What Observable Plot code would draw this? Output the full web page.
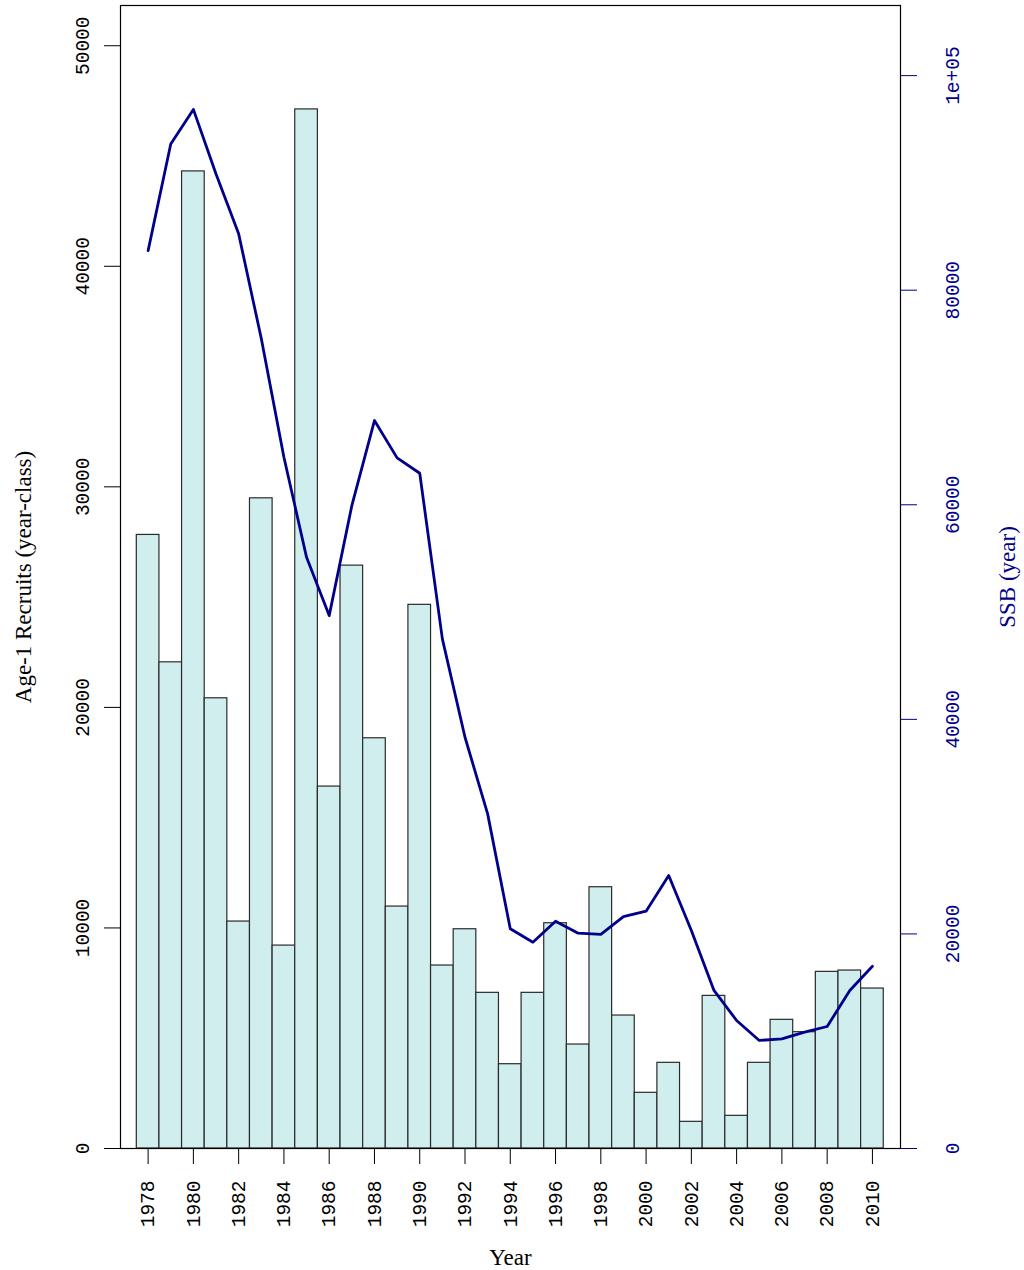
<!DOCTYPE html>
<html>
<head>
<meta charset="utf-8">
<script src="https://cdn.jsdelivr.net/npm/d3@7"></script>
<script src="https://cdn.jsdelivr.net/npm/@observablehq/plot@0.6"></script>
<style>
  body { margin: 0; background: #ffffff; }
  #chart svg { display: block; }
</style>
</head>
<body>
<div id="chart"></div>
<script>
// ---- data ----
const years = [1978, 1979, 1980, 1981, 1982, 1983, 1984, 1985, 1986, 1987, 1988,
               1989, 1990, 1991, 1992, 1993, 1994, 1995, 1996, 1997, 1998, 1999,
               2000, 2001, 2002, 2003, 2004, 2005, 2006, 2007, 2008, 2009, 2010];
const recruits = [27820, 22044, 44302, 20413, 10290, 29479, 9200, 47113, 16410, 26428, 18600,
                  10970, 24650, 8296, 9941, 7058, 3822, 7058, 10213, 4714, 11846, 6029,
                  2525, 3885, 1209, 6920, 1481, 3885, 5834, 5274, 8009, 8069, 7253];
const ssb = [83690, 93630, 96850, 90830, 85250, 75500, 64430, 55100, 49670, 59920, 67850,
             64370, 62940, 47500, 38330, 31190, 20480, 19230, 21190, 20070, 19950, 21620,
             22120, 25440, 20320, 14730, 11930, 10070, 10220, 10840, 11370, 14730, 16990];
const leftTicks = [0, 10000, 20000, 30000, 40000, 50000];
const rightTicks = [0, 20000, 40000, 60000, 80000, 100000];
const rightTickLabels = ["0", "20000", "40000", "60000", "80000", "1e+05"];
const xTicks = [1978, 1980, 1982, 1984, 1986, 1988, 1990, 1992, 1994, 1996, 1998,
                2000, 2002, 2004, 2006, 2008, 2010];
const yLabel = "Age-1 Recruits (year-class)";
const y2Label = "SSB (year)";
const xLabel = "Year";

// ---- build ----
const data = years.map((year, i) => ({year, recruits: recruits[i], ssb: ssb[i]}));
const yTop = 1.1 * d3.max(recruits);
const ssbTop = 1.1 * d3.max(ssb);
const k = yTop / ssbTop;

const blue = "#00008B";
const tickFont = "'Liberation Mono', 'Courier New', monospace";
const titleFont = "'Liberation Serif', 'Times New Roman', serif";

const chart = Plot.plot({
  width: 1024,
  height: 1270,
  marginLeft: 120,
  marginRight: 124,
  marginTop: 5,
  marginBottom: 122,
  style: {fontFamily: tickFont, fontSize: "19.5px", background: "#ffffff", color: "black"},
  x: {domain: [1976.78, 2011.24]},
  y: {domain: [0, yTop]},
  marks: [
    Plot.rectY(data, {
      x1: d => d.year - 0.5, x2: d => d.year + 0.5, y1: 0, y2: "recruits",
      fill: "#D1EEEE", stroke: "#2a2a2a", strokeWidth: 1.2
    }),
    Plot.line(data, {x: "year", y: d => d.ssb * k, stroke: blue, strokeWidth: 2.8}),
    Plot.frame({stroke: "black", strokeWidth: 1.2}),
    Plot.axisY(leftTicks, {
      anchor: "left", tickSize: 16, tickPadding: 16, tickRotate: -90,
      textAnchor: "middle", lineAnchor: "bottom", label: null,
      tickFormat: d => String(d), stroke: "black", fill: "black"
    }),
    Plot.axisY(rightTicks.map(v => v * k), {
      anchor: "right", tickSize: 16, tickPadding: 42, tickRotate: -90,
      textAnchor: "middle", lineAnchor: "bottom", label: null,
      tickFormat: d => rightTickLabels[rightTicks.findIndex(v => Math.abs(v * k - d) < 1e-6)],
      stroke: blue, fill: blue
    }),
    Plot.axisX(xTicks, {
      anchor: "bottom", tickSize: 16, tickPadding: 16, tickRotate: -90,
      textAnchor: "end", lineAnchor: "middle", label: null,
      tickFormat: d => String(d), stroke: "black", fill: "black"
    }),
    Plot.text([yLabel], {
      frameAnchor: "left", text: d => d, rotate: -90, dx: -90, lineAnchor: "bottom",
      textAnchor: "middle", fontFamily: titleFont, fontSize: 23, fill: "black"
    }),
    Plot.text([y2Label], {
      frameAnchor: "right", text: d => d, rotate: -90, dx: 114, lineAnchor: "bottom",
      textAnchor: "middle", fontFamily: titleFont, fontSize: 23, fill: blue
    }),
    Plot.text([xLabel], {
      frameAnchor: "bottom", text: d => d, dy: 116, lineAnchor: "bottom",
      textAnchor: "middle", fontFamily: titleFont, fontSize: 23, fill: "black"
    })
  ]
});
document.getElementById("chart").appendChild(chart);
</script>
</body>
</html>
